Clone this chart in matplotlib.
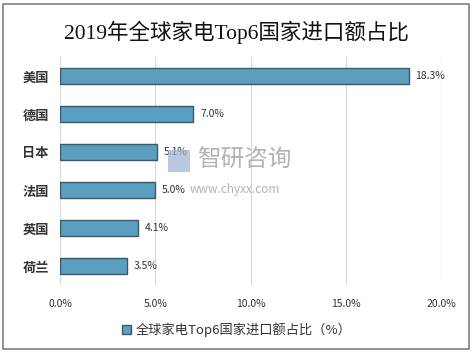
import matplotlib
matplotlib.use("Agg")
import matplotlib.pyplot as plt
from matplotlib.patches import Rectangle

# data
countries = ['美国', '德国', '日本', '法国', '英国', '荷兰']
shares = [18.3, 7.0, 5.1, 5.0, 4.1, 3.5]
xticks = [0, 5, 10, 15, 20]
series_name = '全球家电Top6国家进口额占比（%）'
title = '2019年全球家电Top6国家进口额占比'

plt.rcParams['font.family'] = ['Noto Sans CJK SC', 'DejaVu Sans']

fig = plt.figure(figsize=(4.73, 3.55), dpi=100)
ax = fig.add_axes([60 / 473, 1 - 285 / 355, 381 / 473, 228 / 355])

ypos = list(range(len(countries)))
bars = ax.barh(ypos, shares, height=0.44, color='#5a9fbd', edgecolor='#3a5a6c',
               linewidth=1.0, zorder=3, label=series_name)

for y, v in zip(ypos, shares):
    ax.text(v + 0.35, y, '%.1f%%' % v, va='center', ha='left', fontsize=7.5,
            color='#333333', zorder=4)

ax.set_xlim(0, 20)
ax.set_ylim(len(countries) - 0.5, -0.5)
ax.set_xticks(xticks)
ax.set_xticklabels(['%.1f%%' % t for t in xticks], fontsize=7.5, color='#333333')
ax.set_yticks(ypos)
ax.set_yticklabels(countries, fontsize=9.5, fontweight='bold', color='#333333')
ax.tick_params(axis='both', length=0, pad=8)
ax.tick_params(axis='x', pad=10)
ax.grid(axis='x', color='#d9d9d9', linewidth=0.8, zorder=0)
for s in ax.spines.values():
    s.set_visible(False)

fig.text(0.5, 1 - 32 / 355, title, ha='center', va='center', fontsize=15.5,
         family=['Liberation Serif', 'Noto Sans CJK SC'], color='#111111')

# watermark
fig.text(197 / 473, 1 - 160 / 355, '智研咨询', fontsize=17, color='#a0a0a0',
         alpha=0.8, va='center', ha='left')
fig.text(190 / 473, 1 - 190 / 355, 'www.chyxx.com', fontsize=8.5, color='#a0a0a0',
         alpha=0.8, va='center', ha='left')
fig.patches.append(Rectangle((168 / 473, 1 - 172 / 355), 22 / 473, 22 / 355,
                             transform=fig.transFigure, facecolor='#9fb3d0',
                             alpha=0.7, edgecolor='none'))

fig.legend(handles=[bars], labels=[series_name], loc='center',
           bbox_to_anchor=(0.5, 1 - 330 / 355), frameon=False, fontsize=9.5,
           handlelength=0.7, handleheight=0.7, handletextpad=0.3,
           labelcolor='#333333')

fig.patches.append(Rectangle((3 / 473, 1 - 349 / 355), 466 / 473, 345 / 355,
                             transform=fig.transFigure, fill=False,
                             edgecolor='#808080', linewidth=1.2))

fig.savefig('out.png', dpi=100)
